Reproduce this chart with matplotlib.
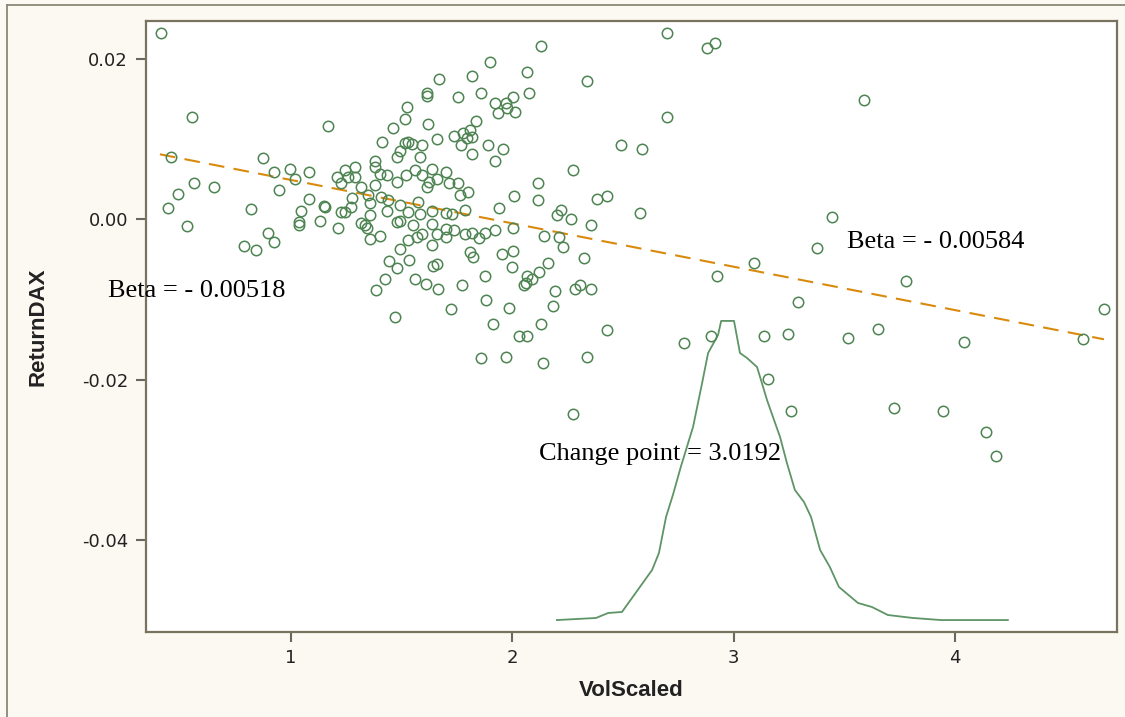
import numpy as np
import matplotlib
matplotlib.use("Agg")
import matplotlib.pyplot as plt
from matplotlib.lines import Line2D

plt.rcParams['axes.unicode_minus'] = False

# scatter: VolScaled vs ReturnDAX
vol = [0.412, 0.554, 1.168, 1.409, 0.457, 0.874, 1.378, 0.923, 0.994, 1.081,
       1.017, 1.243, 1.290, 1.378, 1.401, 1.209, 1.257, 1.288, 1.227, 0.561,
       0.651, 1.315, 1.378, 0.946, 0.490, 1.081, 1.276, 1.348, 1.408, 1.355,
       0.444, 0.818, 1.149, 1.155, 1.044, 1.227, 1.243, 1.272, 1.355, 1.434,
       0.532, 0.789, 0.842, 0.898, 0.922, 1.035, 1.036, 1.131, 1.212, 1.318,
       1.334, 1.342, 1.357, 1.403, 1.439, 1.477, 1.432, 1.477, 1.462, 1.477,
       1.443, 1.425, 1.384, 1.470, 1.479,
       2.129, 1.899, 1.818, 2.065, 2.337, 1.667, 1.613, 1.613, 1.754, 1.858,
       2.074, 1.921, 1.971, 2.004, 1.936, 1.974, 2.012, 1.523, 1.515, 1.620,
       1.836, 1.736, 1.778, 1.808, 1.796, 1.766, 1.816, 1.658, 1.530, 1.545,
       1.515, 1.590, 1.492, 1.583, 1.888, 1.956, 1.921, 1.818, 2.491, 1.519,
       1.560, 1.590, 1.636, 1.625, 1.658, 1.613, 1.700, 1.715, 1.756, 1.763,
       1.801, 2.272, 2.114, 2.009, 2.114, 2.383, 2.426, 1.941, 2.221, 2.200,
       2.266, 1.492, 1.530, 1.575, 1.583, 1.636, 1.700, 1.726, 1.786, 2.697,
       2.878, 2.915, 2.697, 2.587, 2.576, 2.354, 2.004, 2.144, 2.212, 2.227,
       1.921, 1.876, 1.850, 1.816, 1.786, 1.736, 1.700, 1.658, 1.636, 1.568,
       1.590, 1.552, 1.530, 1.636, 1.492, 1.700, 1.492, 1.808, 1.821, 1.954,
       2.004, 1.533, 1.643, 1.661, 1.997, 2.162, 2.121, 2.323, 1.560, 1.610,
       1.665, 1.771, 1.876, 2.065, 2.087, 2.052, 2.061, 2.192, 2.283, 2.305,
       2.354, 1.723, 1.881, 1.986, 2.185, 1.914, 2.129, 2.426, 2.031, 2.065,
       1.858, 1.970, 2.137, 2.337, 2.272,
       2.776, 2.897, 2.923, 3.093, 3.138, 3.246, 3.153, 3.289, 3.258, 3.376,
       3.776, 3.514, 3.650, 4.041, 4.576, 4.672, 3.722, 3.945, 4.138, 4.186,
       3.588, 3.442]
ret = [0.02328, 0.01280, 0.01168, 0.00968, 0.00781, 0.00761, 0.00731, 0.00594, 0.00628, 0.00594,
       0.00499, 0.00615, 0.00656, 0.00656, 0.00565, 0.00524, 0.00532, 0.00524, 0.00449, 0.00449,
       0.00407, 0.00407, 0.00428, 0.00366, 0.00316, 0.00253, 0.00262, 0.00303, 0.00282, 0.00207,
       0.00145, 0.00125, 0.00166, 0.00157, 0.00104, 0.00095, 0.00095, 0.00157, 0.00054, 0.00104,
       -0.00080, -0.00339, -0.00383, -0.00167, -0.00283, -0.00034, -0.00077, -0.00021, -0.00112, -0.00046,
       -0.00077, -0.00105, -0.00246, -0.00208, 0.00241, -0.00030, 0.00553, 0.00781, 0.01135, 0.00469,
       -0.00523, -0.00749, -0.00876, -0.01215, -0.00608,
       0.02162, 0.01966, 0.01788, 0.01842, 0.01729, 0.01747, 0.01572, 0.01538, 0.01522, 0.01580,
       0.01580, 0.01455, 0.01455, 0.01530, 0.01323, 0.01385, 0.01343, 0.01397, 0.01248, 0.01189,
       0.01230, 0.01039, 0.01073, 0.01114, 0.01011, 0.00927, 0.01031, 0.01002, 0.00968, 0.00940,
       0.00948, 0.00927, 0.00856, 0.00781, 0.00927, 0.00877, 0.00727, 0.00815, 0.00927, 0.00553,
       0.00615, 0.00553, 0.00624, 0.00469, 0.00499, 0.00407, 0.00586, 0.00449, 0.00449, 0.00303,
       0.00344, 0.00609, 0.00449, 0.00294, 0.00241, 0.00253, 0.00294, 0.00147, 0.00116, 0.00054,
       0.00004, 0.00178, 0.00095, 0.00220, 0.00070, 0.00104, 0.00079, 0.00066, 0.00110, 0.02328,
       0.02134, 0.02196, 0.01280, 0.00873, 0.00075, -0.00075, -0.00112, -0.00208, -0.00225, -0.00342,
       -0.00134, -0.00167, -0.00237, -0.00167, -0.00183, -0.00134, -0.00121, -0.00183, -0.00059, -0.00217,
       -0.00183, -0.00077, -0.00262, -0.00318, -0.00017, -0.00225, -0.00374, -0.00404, -0.00467, -0.00433,
       -0.00396, -0.00508, -0.00583, -0.00558, -0.00599, -0.00542, -0.00654, -0.00487, -0.00749, -0.00807,
       -0.00873, -0.00820, -0.00707, -0.00707, -0.00749, -0.00820, -0.00800, -0.00891, -0.00873, -0.00820,
       -0.00873, -0.01123, -0.01007, -0.01103, -0.01082, -0.01306, -0.01306, -0.01381, -0.01456, -0.01456,
       -0.01734, -0.01714, -0.01797, -0.01714, -0.02429,
       -0.01547, -0.01456, -0.00707, -0.00542, -0.01456, -0.01435, -0.01996, -0.01026, -0.02388, -0.00358,
       -0.00766, -0.01477, -0.01365, -0.01531, -0.01494, -0.01123, -0.02351, -0.02392, -0.02650, -0.02950,
       0.01489, 0.00032]

# fitted regression line (end points)
fit_x = [0.408, 4.672]
fit_y = [0.00811, -0.01497]

# change point posterior, drawn in data units
cp_x = [2.201, 2.378, 2.432, 2.495, 2.576, 2.631, 2.662, 2.694, 2.725, 2.762,
        2.816, 2.857, 2.884, 2.929, 2.943, 3.001, 3.028, 3.060, 3.105, 3.127,
        3.150, 3.177, 3.209, 3.240, 3.276, 3.317, 3.349, 3.390, 3.434, 3.475,
        3.561, 3.624, 3.696, 3.809, 3.936, 4.238]
cp_y = [-0.05000, -0.04974, -0.04912, -0.04899, -0.04587, -0.04375, -0.04163, -0.03714, -0.03439, -0.03077,
        -0.02591, -0.02042, -0.01668, -0.01443, -0.01268, -0.01268, -0.01668, -0.01731, -0.01843, -0.02042,
        -0.02254, -0.02466, -0.02716, -0.03040, -0.03377, -0.03527, -0.03714, -0.04126, -0.04338, -0.04587,
        -0.04787, -0.04837, -0.04937, -0.04974, -0.05000, -0.05000]

x_ticks = [1, 2, 3, 4]
y_ticks = [-0.04, -0.02, 0.00, 0.02]

W, H = 1125, 717
fig = plt.figure(figsize=(W / 100, H / 100), dpi=100, facecolor='#fcf9f2')
ax = fig.add_axes([146 / W, 1 - 632 / H, (1117 - 146) / W, (632 - 21) / H])
ax.set_facecolor('white')

ax.plot(vol, ret, 'o', mfc='none', mec='#4e8452', mew=1.1, ms=7.5, zorder=3)
ax.plot(fit_x, fit_y, color='#d98a0c', lw=1.5, dashes=(7.5, 4.5), zorder=2)
ax.plot(cp_x, cp_y, color='#5e9466', lw=1.3, zorder=2)

serif = ['Liberation Serif', 'DejaVu Serif']
ax.text(0.173, -0.00969, 'Beta = - 0.00518', family=serif, fontsize=19,
        va='baseline', ha='left', clip_on=False, zorder=5)
ax.text(3.510, -0.00358, 'Beta = - 0.00584', family=serif, fontsize=19,
        va='baseline', ha='left', zorder=5)
ax.text(2.121, -0.03003, 'Change point = 3.0192', family=serif, fontsize=19,
        va='baseline', ha='left', zorder=5)

ax.set_xlim(0.345, 4.731)
ax.set_ylim(-0.05149, 0.02474)
ax.set_xticks(x_ticks)
ax.set_yticks(y_ticks)
ax.set_yticklabels([f'{v:.2f}' for v in y_ticks])

for s in ax.spines.values():
    s.set_color('#77735f')
    s.set_linewidth(1.6)
ax.tick_params(length=7, width=1.5, color='#6b675a', labelsize=13,
               labelcolor='#222222')
ax.tick_params(axis='y', pad=6)
ax.tick_params(axis='x', pad=5)

lab = dict(family=['Liberation Sans Narrow', 'Liberation Sans', 'DejaVu Sans'],
           fontweight='bold', fontsize=16, color='#222222')
ax.set_xlabel('VolScaled', va='center', **lab)
ax.set_ylabel('ReturnDAX', va='center', **lab)
ax.xaxis.set_label_coords(0.5, -0.095)
ax.yaxis.set_label_coords(-0.111, 0.5)

# outer frame (left and top edges only)
fig.add_artist(Line2D([7 / W, 7 / W], [0, 1 - 5 / H], color='#8c8878', lw=1.3))
fig.add_artist(Line2D([7 / W, 1], [1 - 5 / H, 1 - 5 / H], color='#8c8878', lw=1.3))

fig.savefig('out.png', dpi=100, facecolor=fig.get_facecolor())
